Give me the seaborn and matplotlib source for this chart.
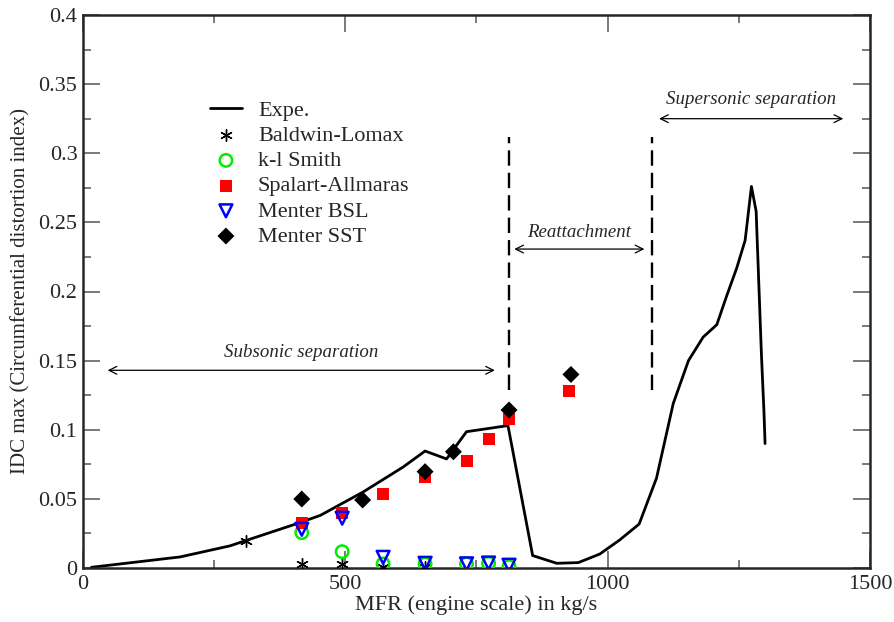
import matplotlib
matplotlib.use("Agg")
import matplotlib.pyplot as plt
import seaborn as sns
import pandas as pd

# ---- data ----
expe_x = [16, 185, 280, 310, 407, 452, 534, 610, 652, 693, 731, 810, 857, 903, 944, 985,
          1023, 1060, 1093, 1125, 1154, 1182, 1208, 1227, 1246, 1262, 1274, 1283, 1293, 1298, 1300]
expe_y = [0.0005, 0.008, 0.016, 0.0198, 0.032, 0.038, 0.055, 0.073, 0.0846, 0.0789, 0.0986, 0.103,
          0.009, 0.0034, 0.0039, 0.0101, 0.0203, 0.0318, 0.0649, 0.119, 0.150, 0.167, 0.176, 0.197,
          0.217, 0.237, 0.276, 0.258, 0.155, 0.112, 0.090]

bl_x = [310, 417, 494, 572, 652]
bl_y = [0.0198, 0.003, 0.003, 0.001, 0.001]

kl_x = [417, 494, 572, 652, 731, 773, 812]
kl_y = [0.0256, 0.0118, 0.0029, 0.0029, 0.003, 0.0034, 0.001]

sa_x = [417, 494, 572, 652, 731, 773, 812, 926]
sa_y = [0.0323, 0.040, 0.0535, 0.0656, 0.0776, 0.093, 0.1078, 0.128]

bsl_x = [417, 494, 572, 652, 731, 773, 812]
bsl_y = [0.028, 0.036, 0.0077, 0.0034, 0.003, 0.0036, 0.002]

sst_x = [417, 533, 652, 706, 812, 930]
sst_y = [0.0499, 0.0492, 0.0697, 0.0841, 0.1143, 0.140]

region_bounds = [812, 1084]
region_ymin, region_ymax = 0.129, 0.312

regions = ["Subsonic separation", "Reattachment", "Supersonic separation"]
region_spans = [(47, 785), (822, 1070), (1098, 1449)]
region_arrow_y = [0.143, 0.2307, 0.325]
region_text_y = [0.156, 0.243, 0.339]

x_ticks = [0, 500, 1000, 1500]
y_ticks = [0, 0.05, 0.1, 0.15, 0.2, 0.25, 0.3, 0.35, 0.4]
y_tick_labels = ["0", "0.05", "0.1", "0.15", "0.2", "0.25", "0.3", "0.35", "0.4"]

# ---- style ----
sns.set_style("ticks")
plt.rcParams['font.family'] = ['Liberation Serif', 'DejaVu Serif']
plt.rcParams['mathtext.fontset'] = 'stix'

fig = plt.figure(figsize=(8.94, 6.22), dpi=100)
ax = fig.add_axes([83 / 894, 54 / 622, 787 / 894, 553 / 622])

sns.lineplot(x=expe_x, y=expe_y, sort=False, estimator=None, color="black",
             linewidth=2.0, ax=ax, label="Expe.")

sns.scatterplot(x=bl_x, y=bl_y, marker=(6, 2, 0), s=70, color="black",
                linewidth=1.0, ax=ax, label="Baldwin-Lomax", zorder=3)
sns.scatterplot(x=kl_x, y=kl_y, marker="o", s=80, facecolor="none",
                edgecolor="#00ee00", linewidth=1.8, ax=ax, label="k-l Smith", zorder=3)
sns.scatterplot(x=sa_x, y=sa_y, marker="s", s=75, color="#ff0000",
                edgecolor="none", linewidth=0, ax=ax, label="Spalart-Allmaras", zorder=3)
sns.scatterplot(x=bsl_x, y=bsl_y, marker="v", s=85, facecolor="none",
                edgecolor="#0000ff", linewidth=1.8, ax=ax, label="Menter BSL", zorder=3)
sns.scatterplot(x=sst_x, y=sst_y, marker="D", s=75, color="black",
                edgecolor="none", linewidth=0, ax=ax, label="Menter SST", zorder=4)

# region separators
ax.vlines(region_bounds, region_ymin, region_ymax, colors="black",
          linestyles=(0, (6.5, 3.0)), linewidth=1.7)

for name, (x0, x1), ya, yt in zip(regions, region_spans, region_arrow_y, region_text_y):
    ax.annotate("", xy=(x0, ya), xytext=(x1, ya),
                arrowprops=dict(arrowstyle="<->", lw=0.9, color="black",
                                shrinkA=0, shrinkB=0, mutation_scale=14))
    ax.text((x0 + x1) / 2, yt, name, ha="center", va="center",
            fontstyle="italic", fontsize=13.6)

ax.set_xlim(0, 1500)
ax.set_ylim(0, 0.4)
ax.set_xticks(x_ticks)
ax.set_yticks(y_ticks)
ax.set_yticklabels(y_tick_labels)
ax.set_xticks([250, 750, 1250], minor=True)
ax.set_yticks([0.025 + 0.05 * i for i in range(8)], minor=True)
ax.tick_params(which="both", direction="in", top=True, right=True, labelsize=16,
               color="#555555")
ax.tick_params(which="major", length=12, width=1.1)
ax.tick_params(which="minor", length=6, width=1.1)
ax.tick_params(axis="x", pad=5)
ax.tick_params(axis="y", pad=4)
for sp in ax.spines.values():
    sp.set_linewidth(1.8)
    sp.set_visible(True)

ax.set_xlabel("MFR (engine scale) in kg/s", fontsize=16, labelpad=1)
ax.set_ylabel("IDC max (Circumferential distortion index)", fontsize=15, labelpad=6)

leg = ax.legend(loc="upper left", bbox_to_anchor=(0.150, 0.862), frameon=False,
                fontsize=16, handlelength=1.44, handletextpad=0.72,
                labelspacing=0.21, borderaxespad=0)

fig.savefig("out.png", dpi=100)
